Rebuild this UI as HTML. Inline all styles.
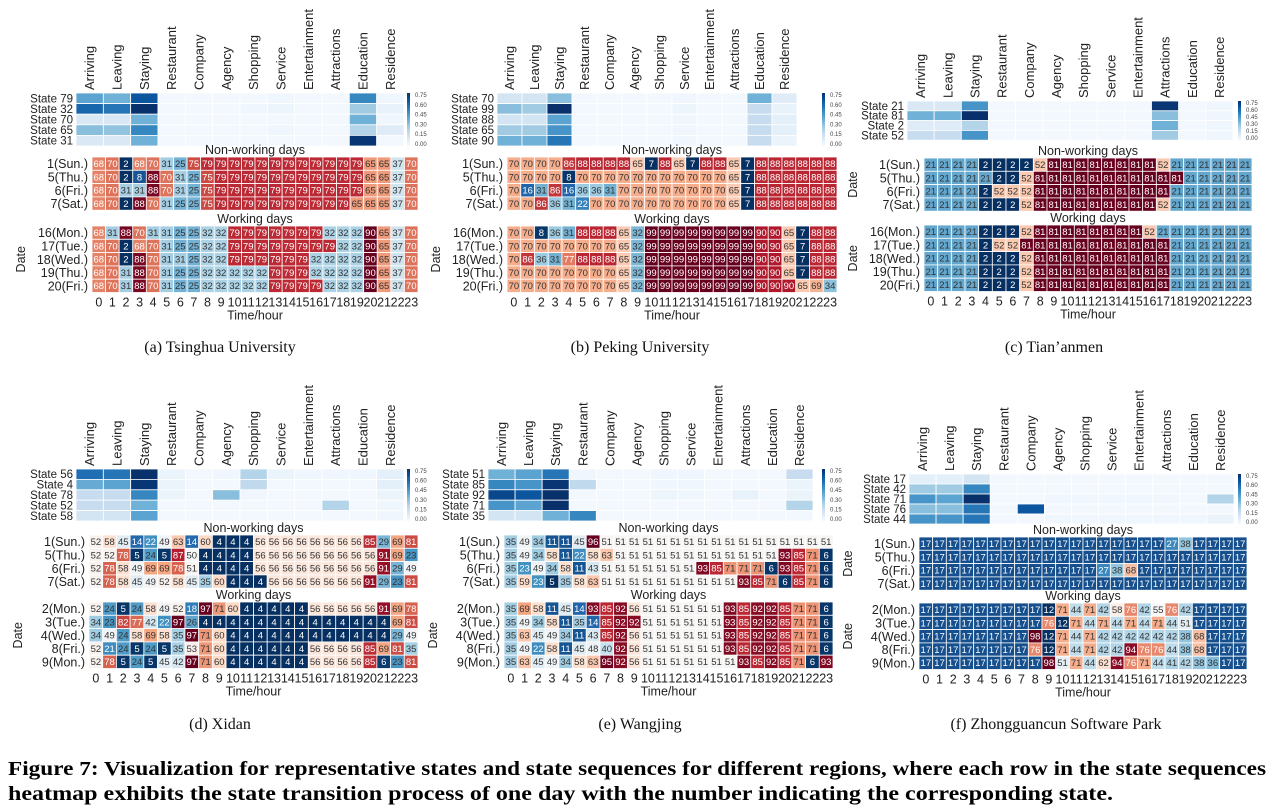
<!DOCTYPE html>
<html><head><meta charset="utf-8">
<style>
html,body{margin:0;padding:0;background:#fff;}
svg{display:block;font-family:"Liberation Sans",sans-serif;}
.cap{font-family:"Liberation Serif",serif;}
</style></head>
<body>
<svg id="fig" width="1271" height="807" viewBox="0 0 1271 807" xmlns="http://www.w3.org/2000/svg"></svg>
<script>
const categories = ["Arriving","Leaving","Staying","Restaurant","Company","Agency","Shopping","Service","Entertainment","Attractions","Education","Residence"];
const cbTicks = ["0.75","0.60","0.45","0.30","0.15","0.00"];
const hours = ["0","1","2","3","4","5","6","7","8","9","10","11","12","13","14","15","16","17","18","19","20","21","22","23"];
const nonDates = ["1(Sun.)","5(Thu.)","6(Fri.)","7(Sat.)"];
const workDatesTop = ["16(Mon.)","17(Tue.)","18(Wed.)","19(Thu.)","20(Fri.)"];
const workDatesBot = ["2(Mon.)","3(Tue.)","4(Wed.)","8(Fri.)","9(Mon.)"];

// (a) Tsinghua
const aStates = ["State 79","State 32","State 70","State 65","State 31"];
const aProbs = [
[0.45,0.40,0.70,0.02,0.02,0.02,0.02,0.03,0.02,0.02,0.55,0.03],
[0.65,0.60,0.82,0.02,0.02,0.02,0.03,0.04,0.02,0.02,0.30,0.06],
[0.12,0.12,0.40,0.02,0.02,0.02,0.02,0.02,0.02,0.02,0.40,0.03],
[0.35,0.33,0.55,0.02,0.02,0.02,0.02,0.03,0.02,0.02,0.25,0.10],
[0.12,0.12,0.40,0.02,0.02,0.02,0.02,0.02,0.02,0.02,0.80,0.02]];
const aNon = [
[68,70,2,68,70,31,25,75,79,79,79,79,79,79,79,79,79,79,79,79,65,65,37,70],
[68,70,2,8,88,70,31,25,75,79,79,79,79,79,79,79,79,79,79,79,65,65,37,70],
[68,70,31,31,88,70,31,25,75,79,79,79,79,79,79,79,79,79,79,79,65,65,37,70],
[68,70,2,88,70,31,25,25,75,79,79,79,79,79,79,79,79,79,79,65,65,65,37,70]];
const aWork = [
[68,31,88,70,31,31,25,25,32,32,79,79,79,79,79,79,79,32,32,32,90,65,37,70],
[68,70,2,68,70,31,25,25,32,32,79,79,79,79,79,79,79,79,32,32,90,65,37,70],
[68,70,2,88,70,31,31,25,32,32,79,79,79,79,79,79,32,32,32,32,90,65,37,70],
[68,70,31,88,70,31,25,25,32,32,32,32,32,79,79,79,32,32,32,32,90,65,37,70],
[68,70,31,88,70,31,25,25,32,32,32,32,32,79,79,79,79,32,32,32,90,65,37,70]];

// (b) Peking
const bStates = ["State 70","State 99","State 88","State 65","State 90"];
const bProbs = [
[0.15,0.15,0.35,0.02,0.02,0.02,0.02,0.03,0.02,0.02,0.40,0.10],
[0.35,0.30,0.82,0.02,0.02,0.02,0.02,0.04,0.02,0.02,0.20,0.06],
[0.15,0.15,0.45,0.02,0.02,0.02,0.02,0.03,0.02,0.02,0.20,0.08],
[0.30,0.30,0.50,0.02,0.02,0.02,0.02,0.03,0.02,0.02,0.20,0.08],
[0.40,0.40,0.60,0.02,0.02,0.02,0.02,0.03,0.02,0.02,0.20,0.05]];
const bNon = [
[70,70,70,70,86,88,88,88,88,65,7,88,65,7,88,88,65,7,88,88,88,88,88,88],
[70,70,70,70,8,70,70,70,70,70,70,70,70,70,70,70,65,7,88,88,88,88,88,88],
[70,16,31,86,16,36,36,31,70,70,70,70,70,70,70,70,65,7,88,88,88,88,88,88],
[70,70,86,36,31,22,70,70,70,70,70,70,70,70,70,70,65,7,88,88,88,88,88,88]];
const bWork = [
[70,70,8,36,31,88,88,88,65,32,99,99,99,99,99,99,99,99,90,90,65,7,88,88],
[70,70,70,70,70,70,70,70,65,32,99,99,99,99,99,99,99,99,90,90,65,7,88,88],
[70,86,36,31,77,88,88,88,65,32,99,99,99,99,99,99,99,99,90,90,65,7,88,88],
[70,70,70,70,70,70,70,70,65,32,99,99,99,99,99,99,99,99,90,90,65,7,88,88],
[70,70,70,70,70,70,70,70,65,32,99,99,99,99,99,99,99,99,90,90,90,65,69,34]];

// (c) Tian'anmen
const cStates = ["State 21","State 81","State 2","State 52"];
const cProbs = [
[0.12,0.12,0.50,0.02,0.02,0.02,0.02,0.02,0.02,0.80,0.02,0.03],
[0.40,0.40,0.82,0.02,0.02,0.02,0.02,0.02,0.02,0.35,0.02,0.03],
[0.10,0.10,0.25,0.02,0.02,0.02,0.02,0.02,0.02,0.40,0.02,0.03],
[0.20,0.20,0.50,0.02,0.02,0.02,0.02,0.02,0.02,0.30,0.02,0.03]];
const cNon = [
[21,21,21,21,2,2,2,2,52,81,81,81,81,81,81,81,81,52,21,21,21,21,21,21],
[21,21,21,21,21,2,2,52,81,81,81,81,81,81,81,81,81,81,81,21,21,21,21,21],
[21,21,21,21,2,52,52,52,81,81,81,81,81,81,81,81,81,81,21,21,21,21,21,21],
[21,21,21,21,2,2,2,52,81,81,81,81,81,81,81,81,81,52,21,21,21,21,21,21]];
const cWork = [
[21,21,21,21,2,2,2,52,81,81,81,81,81,81,81,81,52,21,21,21,21,21,21,21],
[21,21,21,21,2,52,52,81,81,81,81,81,81,81,81,81,81,81,21,21,21,21,21,21],
[21,21,21,21,2,2,2,52,81,81,81,81,81,81,81,81,81,81,21,21,21,21,21,21],
[21,21,21,21,2,2,2,52,81,81,81,81,81,81,81,81,81,81,21,21,21,21,21,21],
[21,21,21,21,2,2,2,52,81,81,81,81,81,81,81,81,81,81,21,21,21,21,21,21]];

// (d) Xidan
const dStates = ["State 56","State 4","State 78","State 52","State 58"];
const dProbs = [
[0.62,0.60,0.82,0.05,0.02,0.03,0.25,0.05,0.03,0.03,0.03,0.08],
[0.42,0.45,0.80,0.05,0.02,0.02,0.22,0.02,0.02,0.02,0.02,0.08],
[0.20,0.20,0.55,0.05,0.02,0.35,0.03,0.02,0.02,0.02,0.02,0.05],
[0.20,0.20,0.40,0.02,0.02,0.02,0.02,0.02,0.02,0.25,0.02,0.03],
[0.15,0.15,0.45,0.02,0.02,0.02,0.02,0.02,0.02,0.02,0.02,0.03]];
const dNon = [
[52,58,45,14,22,49,63,14,60,4,4,4,56,56,56,56,56,56,56,56,85,29,69,81],
[52,52,78,5,24,5,87,50,4,4,4,4,56,56,56,56,56,56,56,56,56,91,69,23],
[52,78,58,49,69,69,78,51,4,4,4,4,56,56,56,56,56,56,56,56,56,91,29,49],
[52,78,58,45,49,52,58,45,35,60,4,4,4,56,56,56,56,56,56,56,91,29,23,81]];
const dWork = [
[52,24,5,24,58,49,52,18,97,71,60,4,4,4,4,4,56,56,56,56,56,91,69,78],
[34,23,82,77,42,22,97,26,4,4,4,4,4,4,4,4,4,4,4,4,4,4,69,81],
[34,49,24,58,69,58,35,97,71,60,4,4,4,4,4,4,4,4,4,4,4,4,29,49],
[52,21,24,5,24,5,35,53,71,60,4,4,4,4,4,4,56,56,56,56,85,69,81,35],
[52,78,5,24,5,45,42,97,71,60,4,4,4,4,4,4,56,56,56,56,85,6,23,81]];

// (e) Wangjing
const eStates = ["State 51","State 85","State 92","State 71","State 35"];
const eProbs = [
[0.40,0.45,0.60,0.03,0.02,0.02,0.03,0.03,0.02,0.02,0.02,0.20],
[0.55,0.50,0.80,0.22,0.02,0.02,0.03,0.03,0.02,0.02,0.02,0.05],
[0.75,0.70,0.82,0.02,0.02,0.02,0.04,0.03,0.02,0.06,0.02,0.05],
[0.50,0.45,0.82,0.02,0.02,0.02,0.02,0.02,0.02,0.02,0.02,0.25],
[0.15,0.15,0.40,0.55,0.02,0.02,0.02,0.02,0.02,0.02,0.02,0.02]];
const eNon = [
[35,49,34,11,11,45,96,51,51,51,51,51,51,51,51,51,51,51,51,51,51,51,51,51],
[35,49,34,58,11,22,58,63,51,51,51,51,51,51,51,51,51,51,51,51,93,85,71,6],
[35,23,49,34,58,11,43,51,51,51,51,51,51,51,93,85,71,71,71,6,93,85,71,6],
[35,59,23,5,35,58,63,51,51,51,51,51,51,51,51,51,51,93,85,71,6,85,71,6]];
const eWork = [
[35,69,58,11,45,14,93,85,92,56,51,51,51,51,51,51,93,85,92,92,85,71,71,6],
[35,49,34,58,11,35,14,85,92,92,51,51,51,51,51,51,93,85,92,92,85,71,71,6],
[35,63,45,49,34,11,43,85,92,56,51,51,51,51,51,51,93,85,92,92,85,71,71,6],
[35,49,22,58,11,45,48,40,92,56,51,51,51,51,51,51,93,85,92,92,85,71,71,6],
[35,63,45,49,34,58,63,95,92,56,51,51,51,51,51,51,51,93,85,92,85,71,6,93]];

// (f) Zhongguancun
const fStates = ["State 17","State 42","State 71","State 76","State 44"];
const fProbs = [
[0.08,0.08,0.15,0.02,0.02,0.02,0.02,0.02,0.02,0.02,0.02,0.02],
[0.30,0.30,0.55,0.02,0.02,0.02,0.02,0.02,0.02,0.02,0.02,0.02],
[0.50,0.45,0.82,0.02,0.02,0.03,0.03,0.03,0.03,0.03,0.02,0.25],
[0.35,0.35,0.60,0.02,0.70,0.02,0.02,0.02,0.02,0.02,0.02,0.02],
[0.50,0.50,0.60,0.02,0.02,0.03,0.03,0.03,0.03,0.03,0.03,0.05]];
const fNon = [
[17,17,17,17,17,17,17,17,17,17,17,17,17,17,17,17,17,17,27,38,17,17,17,17],
[17,17,17,17,17,17,17,17,17,17,17,17,17,17,17,17,17,17,17,17,17,17,17,17],
[17,17,17,17,17,17,17,17,17,17,17,17,17,27,38,68,17,17,17,17,17,17,17,17],
[17,17,17,17,17,17,17,17,17,17,17,17,17,17,17,17,17,17,17,17,17,17,17,17]];
const fWork = [
[17,17,17,17,17,17,17,17,17,12,71,44,71,42,58,76,42,55,76,42,17,17,17,17],
[17,17,17,17,17,17,17,17,17,76,12,71,44,71,44,71,44,71,44,51,17,17,17,17],
[17,17,17,17,17,17,17,17,98,12,71,44,71,42,42,42,42,42,42,38,68,17,17,17],
[17,17,17,17,17,17,17,17,76,12,71,44,71,42,42,94,76,76,44,38,68,17,17,17],
[17,17,17,17,17,17,17,17,17,98,51,71,44,62,94,76,71,44,41,42,38,36,17,17]];

const NS = "http://www.w3.org/2000/svg";
const svg = document.getElementById("fig");
function mk(tag, attrs, parent, text){
  const e = document.createElementNS(NS, tag);
  for (const k in attrs) e.setAttribute(k, attrs[k]);
  if (text !== undefined) e.textContent = text;
  (parent||svg).appendChild(e);
  return e;
}
function hex(h){return [parseInt(h.substr(1,2),16),parseInt(h.substr(3,2),16),parseInt(h.substr(5,2),16)];}
function interp(stops, t){
  t = Math.max(0, Math.min(1, t));
  const n = stops.length-1, p = t*n, i = Math.min(n-1, Math.floor(p)), f = p-i;
  const a = hex(stops[i]), b = hex(stops[i+1]);
  return "rgb("+a.map((v,k)=>Math.round(v+(b[k]-v)*f)).join(",")+")";
}
const RdBuR = ["#053061","#2166ac","#4393c3","#92c5de","#d1e5f0","#f7f7f7","#fddbc7","#f4a582","#d6604d","#b2182b","#67001f"];
const Blues = ["#f7fbff","#deebf7","#c6dbef","#9ecae1","#6baed6","#4292c6","#2171b5","#08519c","#08306b"];

function panel(p){
  const g = mk("g", {});
  
  
  const cw = p.stW/12;
  const sh = mk("g", {}, g);
  
  
  categories.forEach((c,j)=>{
    const x = p.stX + (j+0.5)*cw;
    const t = mk("text",{x:x+4.5,y:p.stY-3,transform:"rotate(-90 "+(x+4.5)+" "+(p.stY-3)+")","font-size":"13",fill:"#222"}, sh, c);
    
    
  });
  p.states.forEach((s,i)=>{
    const y = p.stY + i*p.stRh;
    const l = mk("text",{x:p.stX-3,y:y+p.stRh/2+4,"text-anchor":"end","font-size":"11.5",fill:"#222"}, sh, s);
    
    
    p.probs[i].forEach((v,j)=>{
      const r = mk("rect",{x:p.stX+j*cw,y:y,width:cw,height:p.stRh,fill:interp(Blues,v/0.82),stroke:"#fff","stroke-width":"0.8"}, sh);
      
      
    });
  });
  const cbH = p.stRh*p.states.length;
  for(let k=0;k<40;k++){
    mk("rect",{x:p.cbX,y:p.stY+cbH*(1-(k+1)/40),width:3,height:cbH/40+0.3,fill:interp(Blues,(k+0.5)/40)}, g);
  }
  cbTicks.forEach((t,k)=>{
    const ty = p.stY + 2 + k*(cbH-4)/(cbTicks.length-1);
    const e = mk("text",{x:p.cbX+8,y:ty+2,"font-size":"6",fill:"#444"}, g, t);
    
    
  });
  const all = p.non.flat().concat(p.work.flat());
  const mn = Math.min(...all), mx = Math.max(...all);
  const scw = p.seqW/24;
  function block(rows, dates, y0, title, titleName){
    const tt = mk("text",{x:p.seqX+p.seqW/2,y:y0-3,"text-anchor":"middle","font-size":"12.5",fill:"#222"}, g, title);
    
    
    rows.forEach((row,i)=>{
      const y = y0 + i*p.rh;
      const l = mk("text",{x:p.seqX-4,y:y+p.rh/2+4.5,"text-anchor":"end","font-size":"12.5",fill:"#222"}, g, dates[i]);
      
      
      row.forEach((v,j)=>{
        const t = (v-mn)/(mx-mn);
        const x = p.seqX + j*scw;
        const r = mk("rect",{x:x,y:y,width:scw,height:p.rh,fill:interp(RdBuR,t),stroke:"#fff","stroke-width":"0.8"}, g);
        
        
        const tc = (t>0.74||t<0.2) ? "#fff" : "#333";
        const n = mk("text",{x:x+scw/2,y:y+p.rh/2+3.3,"text-anchor":"middle","font-size":"9.5",fill:tc}, g, String(v));
        
        
      });
    });
    const h = rows.length*p.rh;
    const dl = mk("text",{x:p.seqX-67,y:y0+h/2,transform:"rotate(-90 "+(p.seqX-67)+" "+(y0+h/2)+")","text-anchor":"middle","font-size":"12.5",fill:"#222"}, g, "Date");
    
    
    if(!p.showNonDate && rows.length===4) dl.setAttribute("opacity","0");
  }
  block(p.non, nonDates, p.nwY, "Non-working days", "non-working-title");
  block(p.work, p.workDates, p.wY, "Working days", "working-title");
  const tickY = p.wY + 5*p.rh + 14;
  hours.forEach((h,j)=>{
    const t = mk("text",{x:p.seqX+(j+0.5)*scw,y:tickY,"text-anchor":"middle","font-size":"12.5",fill:"#222"}, g, h);
    
    
  });
  const xt = mk("text",{x:p.seqX+p.seqW/2,y:tickY+13,"text-anchor":"middle","font-size":"12.5",fill:"#222"}, g, "Time/hour");
  
  
  const cap = mk("text",{x:p.capX,y:p.capY,"text-anchor":"middle","font-size":"16",fill:"#111","class":"cap"}, g, p.caption);
  
  
}

panel({name:"panel-tsinghua",states:aStates,probs:aProbs,non:aNon,work:aWork,workDates:workDatesTop,
  stX:76,stW:328,stY:93,stRh:10.6,cbX:407,seqX:92,seqW:326,nwY:157,wY:226,rh:13.3,showNonDate:false,
  caption:"(a)  Tsinghua University",capX:220,capY:352});
panel({name:"panel-peking",states:bStates,probs:bProbs,non:bNon,work:bWork,workDates:workDatesTop,
  stX:497,stW:300,stY:93,stRh:10.6,cbX:822,seqX:507,seqW:330,nwY:157,wY:226,rh:13.3,showNonDate:false,
  caption:"(b)  Peking University",capX:640,capY:352});
panel({name:"panel-tiananmen",states:cStates,probs:cProbs,non:cNon,work:cWork,workDates:workDatesTop,
  stX:907,stW:326,stY:101,stRh:9.8,cbX:1238,seqX:924,seqW:328,nwY:158,wY:225,rh:13.3,showNonDate:true,
  caption:"(c)  Tian\u2019anmen",capX:1054,capY:352});
panel({name:"panel-xidan",states:dStates,probs:dProbs,non:dNon,work:dWork,workDates:workDatesBot,
  stX:76,stW:328,stY:469,stRh:10.4,cbX:407,seqX:89,seqW:329,nwY:535,wY:602,rh:13.3,showNonDate:false,
  caption:"(d)  Xidan",capX:220,capY:729});
panel({name:"panel-wangjing",states:eStates,probs:eProbs,non:eNon,work:eWork,workDates:workDatesBot,
  stX:488,stW:325,stY:469,stRh:10.4,cbX:822,seqX:504,seqW:329,nwY:535,wY:602,rh:13.3,showNonDate:false,
  caption:"(e)  Wangjing",capX:640,capY:729});
panel({name:"panel-zhongguancun",states:fStates,probs:fProbs,non:fNon,work:fWork,workDates:workDatesBot,
  stX:909,stW:325,stY:474,stRh:10,cbX:1238,seqX:919,seqW:328,nwY:537,wY:603,rh:13.3,showNonDate:true,
  caption:"(f)  Zhongguancun Software Park",capX:1056,capY:729});

const c1 = mk("text",{x:8,y:775,"font-size":"20","font-weight":"bold",fill:"#000","class":"cap",textLength:"1258",lengthAdjust:"spacingAndGlyphs"}, svg,
 "Figure 7: Visualization for representative states and state sequences for different regions, where each row in the state sequences");


const c2 = mk("text",{x:8,y:800,"font-size":"20","font-weight":"bold",fill:"#000","class":"cap",textLength:"1105",lengthAdjust:"spacingAndGlyphs"}, svg,
 "heatmap exhibits the state transition process of one day with the number indicating the corresponding state.");


</script>
</body></html>
